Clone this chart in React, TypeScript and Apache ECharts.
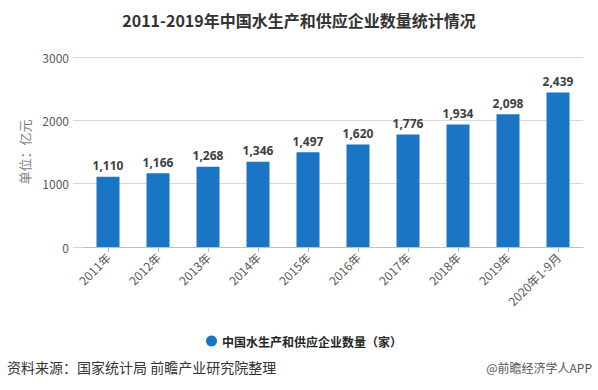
import React, { useEffect, useRef } from "react";
import * as echarts from "echarts";

const categories = ["2011年", "2012年", "2013年", "2014年", "2015年", "2016年", "2017年", "2018年", "2019年", "2020年1-9月"];
const values = [1110, 1166, 1268, 1346, 1497, 1620, 1776, 1934, 2098, 2439];
const seriesName = "中国水生产和供应企业数量（家）";
const titleText = "2011-2019年中国水生产和供应企业数量统计情况";
const yAxisName = "单位：亿元";
const sourceText = "资料来源：国家统计局 前瞻产业研究院整理";
const brandText = "@前瞻经济学人APP";

const CJK = "'Noto Sans CJK SC', 'Noto Sans', sans-serif";
const BLUE = "#1b75c5";

export default function App() {
  const ref = useRef<HTMLDivElement>(null);
  useEffect(() => {
    if (!ref.current) return;
    const chart = echarts.init(ref.current, null, { renderer: "svg" });
    chart.setOption({
      animation: false,
      backgroundColor: "#ffffff",
      textStyle: { fontFamily: CJK },
      title: {
        text: titleText,
        left: "center",
        top: 7,
        textStyle: { fontSize: 16, fontWeight: "bold", color: "#333333", fontFamily: CJK },
      },
      legend: {
        data: [seriesName],
        left: 201,
        top: 330,
        icon: "circle",
        itemWidth: 11,
        itemHeight: 11,
        itemGap: 6,
        textStyle: { fontSize: 12, color: "#262626", fontWeight: "bold", fontFamily: CJK },
      },
      grid: { left: 83, right: 15, top: 57, bottom: 143 },
      xAxis: {
        type: "category",
        data: categories,
        axisLine: { show: true, lineStyle: { color: "#bfbfbf" } },
        axisTick: { show: true, alignWithLabel: true, length: 5, lineStyle: { color: "#bfbfbf" } },
        axisLabel: { rotate: 45, fontSize: 12, color: "#595959", margin: 8, fontFamily: CJK, interval: 0 },
      },
      yAxis: {
        type: "value",
        min: 0,
        max: 3000,
        interval: 1000,
        name: yAxisName,
        nameLocation: "middle",
        nameGap: 52,
        nameRotate: 90,
        nameTextStyle: { fontSize: 13, color: "#7f7f7f", fontFamily: CJK },
        axisLine: { show: false },
        axisTick: { show: true, length: 10, inside: false, lineStyle: { color: "#d9d9d9" } },
        axisLabel: {
          fontSize: 12,
          color: "#595959",
          margin: 14,
          fontFamily: CJK,
          formatter: (v: number) => String(v),
        },
        splitLine: { lineStyle: { color: "#d9d9d9" } },
      },
      series: [
        {
          name: seriesName,
          type: "bar",
          data: values,
          barWidth: 23,
          itemStyle: { color: BLUE },
          label: {
            show: true,
            position: "top",
            distance: 5,
            fontSize: 12,
            fontWeight: "bold",
            color: "#404040",
            fontFamily: "'Noto Sans', sans-serif",
            formatter: (p: any) => Number(p.value).toLocaleString("en-US"),
          },
        },
      ],
      graphic: [
        {
          type: "text",
          left: 7,
          top: 360,
          style: { text: sourceText, fontSize: 14, fill: "#333333", fontFamily: CJK },
        },
        {
          type: "text",
          right: 6,
          top: 361,
          style: { text: brandText, fontSize: 12, fill: "#555555", fontFamily: CJK },
        },
      ],
    });
    return () => chart.dispose();
  }, []);
  return (
    <div
      ref={ref}
      style={{ position: "absolute", left: 0, top: 0, width: 598, height: 390 }}
    />
  );
}
